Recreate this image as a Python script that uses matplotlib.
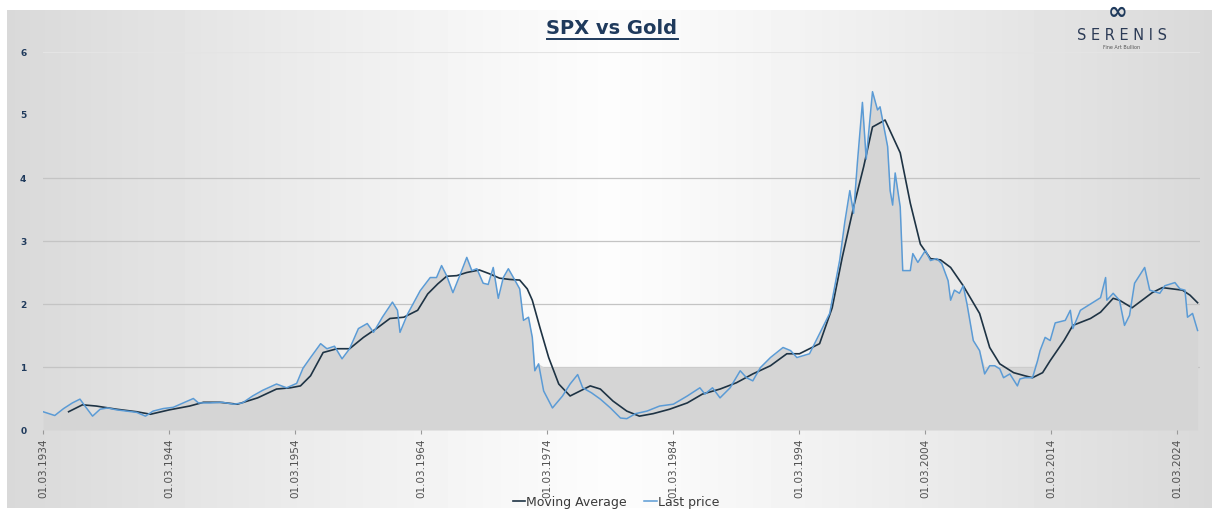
import numpy as np
import matplotlib
matplotlib.use("Agg")  # headless backend
import matplotlib.pyplot as plt  # noqa: E402
from matplotlib.lines import Line2D  # noqa: E402

# ---- data (decimal years, ratio SPX / gold) ----
price_years = [
    1934.17, 1935.1, 1935.8, 1936.5, 1937.1, 1937.5, 1938.1, 1938.7, 1939.3, 1940.0,
    1940.8, 1941.6, 1942.3, 1942.9, 1943.7, 1944.5, 1945.3, 1946.1, 1946.5, 1947.4,
    1948.4, 1949.3, 1950.0, 1950.8, 1951.6, 1952.7, 1953.5, 1954.3, 1954.8, 1955.4,
    1956.2, 1956.7, 1957.3, 1957.9, 1958.5, 1959.2, 1959.9, 1960.4, 1961.1, 1961.9,
    1962.3, 1962.5, 1963.1, 1964.1, 1964.9, 1965.4, 1965.8, 1966.2, 1966.7, 1967.3,
    1967.8, 1968.2, 1968.6, 1969.1, 1969.5, 1969.9, 1970.3, 1970.7, 1971.1, 1971.5,
    1972.0, 1972.3, 1972.7, 1973.0, 1973.2, 1973.5, 1973.9, 1974.6, 1975.4, 1976.0,
    1976.6, 1977.0, 1977.7, 1978.4, 1979.2, 1980.0, 1980.5, 1981.2, 1982.1, 1983.1,
    1984.2, 1985.3, 1986.3, 1986.7, 1987.3, 1987.9, 1988.7, 1989.5, 1990.0, 1990.5,
    1991.1, 1991.9, 1992.9, 1993.5, 1994.0, 1995.0, 1995.8, 1996.6, 1997.4, 1997.8,
    1998.2, 1998.5, 1998.8, 1999.2, 1999.5, 2000.0, 2000.4, 2000.6, 2001.2, 2001.4,
    2001.6, 2001.8, 2002.2, 2002.4, 2003.0, 2003.2, 2003.6, 2004.2, 2004.6, 2005.1,
    2005.5, 2006.0, 2006.2, 2006.5, 2006.9, 2007.2, 2007.5, 2008.0, 2008.5, 2008.9,
    2009.3, 2009.7, 2010.1, 2010.4, 2010.9, 2011.5, 2011.7, 2012.1, 2012.7, 2013.1,
    2013.3, 2013.7, 2014.1, 2014.5, 2015.3, 2015.7, 2015.9, 2016.5, 2017.3, 2018.1,
    2018.5, 2018.6, 2019.1, 2019.6, 2020.0, 2020.4, 2020.8, 2021.6, 2022.0, 2022.8,
    2023.2, 2024.0, 2024.4, 2024.8, 2025.0, 2025.4, 2025.8,
]
price_values = [
    0.29, 0.23, 0.34, 0.43, 0.49, 0.38, 0.22, 0.33, 0.35, 0.32,
    0.30, 0.28, 0.22, 0.30, 0.34, 0.36, 0.43, 0.50, 0.43, 0.43,
    0.44, 0.41, 0.43, 0.54, 0.63, 0.73, 0.67, 0.74, 0.98, 1.15,
    1.37, 1.29, 1.33, 1.13, 1.29, 1.61, 1.69, 1.55, 1.79, 2.03,
    1.90, 1.55, 1.84, 2.21, 2.42, 2.42, 2.61, 2.45, 2.18, 2.48,
    2.74, 2.53, 2.56, 2.33, 2.31, 2.58, 2.09, 2.42, 2.56, 2.42,
    2.24, 1.74, 1.79, 1.47, 0.94, 1.05, 0.62, 0.35, 0.54, 0.73,
    0.88, 0.67, 0.59, 0.49, 0.35, 0.19, 0.18, 0.26, 0.30, 0.38,
    0.41, 0.54, 0.67, 0.57, 0.67, 0.51, 0.67, 0.94, 0.83, 0.78,
    0.99, 1.15, 1.31, 1.26, 1.15, 1.21, 1.53, 1.85, 2.70, 3.30,
    3.80, 3.44, 4.24, 5.20, 4.30, 5.37, 5.08, 5.13, 4.50, 3.80,
    3.57, 4.08, 3.54, 2.53, 2.53, 2.80, 2.66, 2.85, 2.69, 2.72,
    2.64, 2.37, 2.06, 2.22, 2.17, 2.29, 2.00, 1.42, 1.26, 0.89,
    1.02, 1.02, 0.97, 0.83, 0.89, 0.70, 0.81, 0.83, 0.83, 1.10,
    1.26, 1.47, 1.42, 1.70, 1.74, 1.90, 1.61, 1.90, 2.00, 2.10,
    2.42, 2.06, 2.17, 2.06, 1.66, 1.82, 2.33, 2.58, 2.22, 2.17,
    2.29, 2.34, 2.24, 2.22, 1.79, 1.85, 1.58,
]

ma_years = [
    1936.2, 1937.3, 1938.4, 1940.0, 1941.6, 1942.7, 1944.2, 1945.8, 1946.9, 1948.2,
    1949.6, 1951.2, 1952.7, 1953.8, 1954.6, 1955.4, 1956.4, 1957.5, 1958.5, 1959.6,
    1960.7, 1961.7, 1962.8, 1963.9, 1964.7, 1965.5, 1966.2, 1967.0, 1967.8, 1968.8,
    1969.6, 1970.4, 1971.2, 1972.0, 1972.6, 1973.0, 1973.6, 1974.3, 1975.1, 1976.0,
    1976.8, 1977.6, 1978.4, 1979.4, 1980.5, 1981.5, 1982.6, 1983.9, 1985.3, 1986.5,
    1987.9, 1989.2, 1990.5, 1991.9, 1993.2, 1994.2, 1995.8, 1996.8, 1997.6, 1998.5,
    1999.3, 2000.0, 2001.0, 2001.6, 2002.2, 2003.0, 2003.8, 2004.6, 2005.4, 2006.2,
    2007.2, 2008.5, 2009.3, 2010.1, 2011.2, 2012.1, 2012.7, 2013.5, 2014.1, 2015.2,
    2015.9, 2017.3, 2018.1, 2019.1, 2019.6, 2020.6, 2021.4, 2022.2, 2023.0, 2023.8,
    2024.6, 2025.2, 2025.8,
]
ma_values = [
    0.29, 0.40, 0.38, 0.33, 0.29, 0.25, 0.32, 0.38, 0.44, 0.44,
    0.41, 0.51, 0.65, 0.67, 0.70, 0.86, 1.23, 1.29, 1.29, 1.47,
    1.62, 1.77, 1.79, 1.90, 2.16, 2.32, 2.44, 2.45, 2.50, 2.54,
    2.48, 2.41, 2.39, 2.38, 2.24, 2.06, 1.63, 1.15, 0.73, 0.54,
    0.62, 0.70, 0.65, 0.46, 0.30, 0.22, 0.26, 0.33, 0.43, 0.57,
    0.65, 0.75, 0.89, 1.02, 1.21, 1.21, 1.37, 1.94, 2.74, 3.54,
    4.18, 4.81, 4.92, 4.66, 4.40, 3.60, 2.95, 2.72, 2.70, 2.58,
    2.29, 1.85, 1.31, 1.05, 0.91, 0.86, 0.83, 0.91, 1.10, 1.42,
    1.66, 1.77, 1.87, 2.09, 2.06, 1.94, 2.06, 2.18, 2.26, 2.24,
    2.22, 2.14, 2.02,
]

# lower edge of the grey band seen under the curve (0 early on, 1 later)
shade_floor_years = [1934.17, 1955.9, 1956.0, 2026.0]
shade_floor_values = [0.0, 0.0, 1.0, 1.0]

tick_years = [1934, 1944, 1954, 1964, 1974, 1984, 1994, 2004, 2014, 2024]
tick_labels = [f"01.03.{y}" for y in tick_years]
y_ticks = [0, 1, 2, 3, 4, 5, 6]

NAVY = "#1f3a5c"
BLUE = "#5b9bd5"
DARK = "#1e3344"

W, H = 1212, 511
fig = plt.figure(figsize=(W / 100, H / 100), dpi=100)
fig.patch.set_facecolor("white")

# background panel with a soft horizontal gradient
bg = fig.add_axes([7 / W, 3 / H, 1 - 7 / W, (H - 13) / H], zorder=-2)
gx = np.linspace(-1, 1, 400)
shade = 0.99 - 0.14 * np.abs(gx) ** 1.1
bg.imshow(np.tile(shade, (2, 1)), aspect="auto", cmap="gray", vmin=0, vmax=1,
          extent=[0, 1, 0, 1], interpolation="bicubic")
bg.axis("off")

ax = fig.add_axes([43 / W, 81 / H, (1200 - 43) / W, (430 - 52) / H])
ax.set_facecolor("none")

x0 = tick_years[0] + 2 / 12
ax.set_xlim(x0, x0 + (1200 - 43) / 12.6)
ax.set_ylim(0, 6)

floor = np.interp(price_years, shade_floor_years, shade_floor_values)
ax.fill_between(price_years, 0, np.maximum(price_values, floor), color="#d5d5d5",
                lw=0, zorder=1)
ax.plot(ma_years, ma_values, color=DARK, lw=1.2, zorder=3, label="Moving Average")
ax.plot(price_years, price_values, color=BLUE, lw=1.1, zorder=4, label="Last price")

for yv in [1, 2, 3, 4]:
    ax.axhline(yv, color="#c4c4c4", lw=0.9, zorder=0.5)
ax.axhline(6, color="#e4e4e4", lw=0.8, zorder=0.5)

for s in ax.spines.values():
    s.set_visible(False)

ax.set_yticks(y_ticks)
ax.set_yticklabels([str(v) for v in y_ticks], fontsize=6.5, fontweight="bold", color=NAVY)
ax.tick_params(axis="y", length=0, pad=12)

ax.set_xticks([y + 2 / 12 for y in tick_years])
ax.set_xticklabels(tick_labels, rotation=90, fontsize=7.5, color="#505050",
                   va="top", ha="center")
ax.tick_params(axis="x", length=3, color="#9a9a9a", pad=3)

# title with underline
title = fig.text(612 / W, (H - 28) / H, "SPX vs Gold", ha="center", va="center",
                 fontsize=14, fontweight="bold", color=NAVY)

# logo
fig.text(1118 / W, (H - 12) / H, "\u221e", ha="center", va="center", fontsize=17,
         fontweight="bold", color=NAVY)
fig.text(1122 / W, (H - 35) / H, "S E R E N I S", ha="center", va="center",
         fontsize=10.5, color="#2c3b56")
fig.text(1122 / W, (H - 47) / H, "Fine Art Bullion", ha="center", va="center",
         fontsize=3.5, color="#555555")

fig.legend(loc="center", bbox_to_anchor=(616 / W, 9 / H), ncol=2, frameon=False,
           fontsize=9, handlelength=1.0, handletextpad=0.1, columnspacing=1.4,
           labelcolor="#3a3a3a", borderpad=0.1)

fig.canvas.draw()
bb = title.get_window_extent()
fig.add_artist(Line2D([bb.x0, bb.x1], [bb.y0 - 1.5, bb.y0 - 1.5], transform=None,
                      color=NAVY, lw=1.4))

fig.savefig("out.png", dpi=100)
